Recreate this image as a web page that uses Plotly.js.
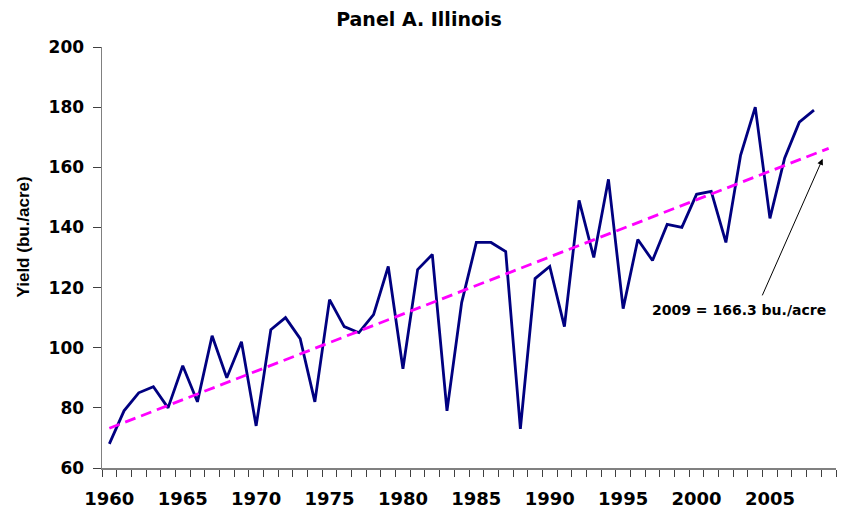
<!DOCTYPE html>
<html>
<head>
<meta charset="utf-8">
<script src="https://cdn.plot.ly/plotly-3.0.1.min.js"></script>
<style>html,body{margin:0;padding:0;background:#fff;}#chart{width:843px;height:516px;}</style>
</head>
<body>
<div id="chart"></div>
<script>
// Illinois corn yield (bu./acre), 1960-2008
var years = [1960,1961,1962,1963,1964,1965,1966,1967,1968,1969,
             1970,1971,1972,1973,1974,1975,1976,1977,1978,1979,
             1980,1981,1982,1983,1984,1985,1986,1987,1988,1989,
             1990,1991,1992,1993,1994,1995,1996,1997,1998,1999,
             2000,2001,2002,2003,2004,2005,2006,2007,2008];
var yields = [68,79,85,87,80,94,82,104,90,102,
              74,106,110,103,82,116,107,105,111,127,
              93,126,131,79,115,135,135,132,73,123,
              127,107,149,130,156,113,136,129,141,140,
              151,152,135,164,180,143,163,175,179];
// Linear trend endpoints
var trendYears = [1960, 2009];
var trendValues = [73.2, 166.3];
// Tick labels
var xTickVals = [1960,1965,1970,1975,1980,1985,1990,1995,2000,2005];
var xTickText = ["1960","1965","1970","1975","1980","1985","1990","1995","2000","2005"];
var titleText = "Panel A. Illinois";
var yTitleText = "Yield (bu./acre)";
var noteText = "2009 = 166.3 bu./acre";

var boldFont = "DejaVu Sans";
var traces = [
  {x: years, y: yields, type: 'scatter', mode: 'lines',
   line: {color: '#000080', width: 2.8}, hoverinfo: 'x+y'},
  {x: trendYears, y: trendValues, type: 'scatter', mode: 'lines',
   line: {color: '#FF00FF', width: 2.8, dash: '11px,6px'}, hoverinfo: 'x+y'}
];
var layout = {
  width: 843, height: 516,
  margin: {l: 102, r: 7, t: 47, b: 48},
  paper_bgcolor: '#ffffff', plot_bgcolor: '#ffffff',
  showlegend: false,
  title: {text: '<b>' + titleText + '</b>', x: 0.497, xanchor: 'center',
          y: 1 - 19/516, yanchor: 'middle', yref: 'container',
          font: {family: boldFont, size: 19, color: '#000'}},
  xaxis: {range: [1959.5, 2009.5], showgrid: false, zeroline: false,
          showline: true, linecolor: '#808080', linewidth: 1.5,
          tickmode: 'array', tickvals: xTickVals, ticktext: xTickText,
          ticks: '', ticklabelstandoff: 14,
          tickfont: {family: boldFont, size: 18, color: '#000', weight: 'bold'},
          minor: {tick0: 1959.5, dtick: 1, ticks: 'outside', ticklen: 7,
                  tickcolor: '#404040', tickwidth: 1, showgrid: false}},
  yaxis: {range: [60, 200], dtick: 20, tick0: 60, showgrid: false, zeroline: false,
          showline: true, linecolor: '#808080', linewidth: 1.5,
          ticks: 'outside', ticklen: 8, tickcolor: '#404040', tickwidth: 1,
          ticklabelstandoff: 5,
          tickfont: {family: boldFont, size: 17, color: '#000', weight: 'bold'}},
  annotations: [
    {text: '<b>' + yTitleText + '</b>', textangle: -90, xref: 'paper', yref: 'paper',
     x: (23 - 102) / 734, y: (467.5 - 237) / 421, xanchor: 'center', yanchor: 'middle',
     showarrow: false, font: {family: 'Liberation Sans', size: 17, color: '#000'}},
    {text: '<b>' + noteText + '</b>', xref: 'x', yref: 'y', x: 2002.86, y: 112.7,
     xanchor: 'center', yanchor: 'middle', showarrow: false,
     font: {family: boldFont, size: 14, color: '#000'}},
    {text: '', xref: 'x', yref: 'y', x: 2008.59, y: 162.8, ax: -61, ay: 138,
     showarrow: true, arrowhead: 2, arrowsize: 1.2, arrowwidth: 1, arrowcolor: '#000', standoff: 0}
  ]
};
Plotly.newPlot('chart', traces, layout, {displayModeBar: false, staticPlot: true});
</script>
</body>
</html>
